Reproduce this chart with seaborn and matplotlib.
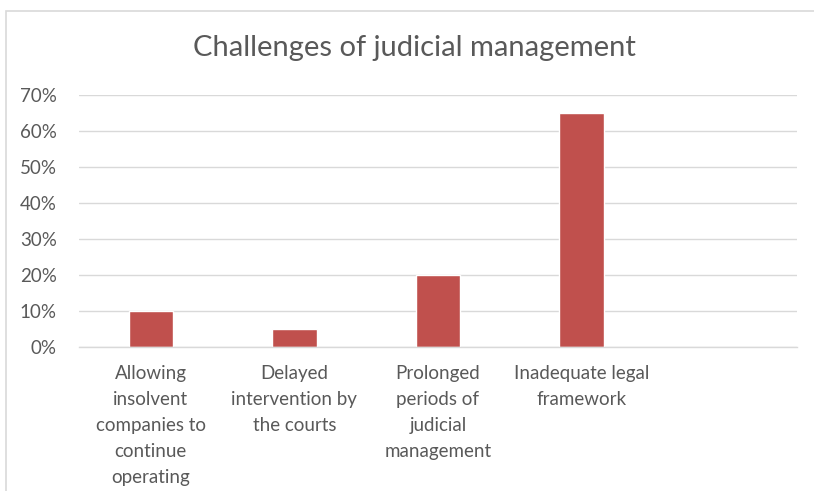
import matplotlib
matplotlib.use("Agg")
import matplotlib.pyplot as plt
import seaborn as sns
import pandas as pd
from matplotlib.patches import Rectangle
from matplotlib.ticker import PercentFormatter

categorias = [
    "Allowing\ninsolvent\ncompanies to\ncontinue\noperating",
    "Delayed\nintervention by\nthe courts",
    "Prolonged\nperiods of\njudicial\nmanagement",
    "Inadequate legal\nframework",
]
valores = [0.10, 0.05, 0.20, 0.65]
ticks_y = [0.0, 0.1, 0.2, 0.3, 0.4, 0.5, 0.6, 0.7]

datos = pd.DataFrame({"reto": categorias, "valor": valores})

sns.set_style("white")
plt.rcParams["font.family"] = ["Lato", "DejaVu Sans"]
gris = "#595959"

fig = plt.figure(figsize=(8.14, 4.91), dpi=100)
ax = fig.add_axes([79 / 814, 1 - 347 / 491, 718 / 814, 252 / 491])

# borde del área del gráfico (estilo Excel)
fig.patches.append(Rectangle((6 / 814, -0.05), 1.0, 1 - 11 / 491 + 0.05,
                             transform=fig.transFigure, fill=False,
                             edgecolor="#D9D9D9", linewidth=1.2))

sns.barplot(x="reto", y="valor", data=datos, color="#C0504D",
            width=0.31, saturation=1, ax=ax)

ax.set_xlim(-0.5, 4.5)
ax.set_ylim(0, 0.7)
ax.set_yticks(ticks_y)
ax.yaxis.set_major_formatter(PercentFormatter(1.0, decimals=0))
ax.grid(axis="y", color="#D9D9D9", linewidth=1)
ax.set_axisbelow(True)
for lado in ["top", "right", "left"]:
    ax.spines[lado].set_visible(False)
ax.spines["bottom"].set_color("#D9D9D9")
ax.spines["bottom"].set_linewidth(1)
ax.tick_params(axis="both", length=0, colors=gris, labelsize=13.5)
ax.tick_params(axis="x", pad=13)
ax.tick_params(axis="y", pad=16)
for t in ax.get_xticklabels():
    t.set_linespacing(1.65)
    t.set_verticalalignment("top")
ax.set_xlabel("")
ax.set_ylabel("")

fig.text(414 / 814, 1 - 48 / 491, "Challenges of judicial management",
         ha="center", va="center", fontsize=21, color=gris)

fig.savefig("out.png", dpi=100)
